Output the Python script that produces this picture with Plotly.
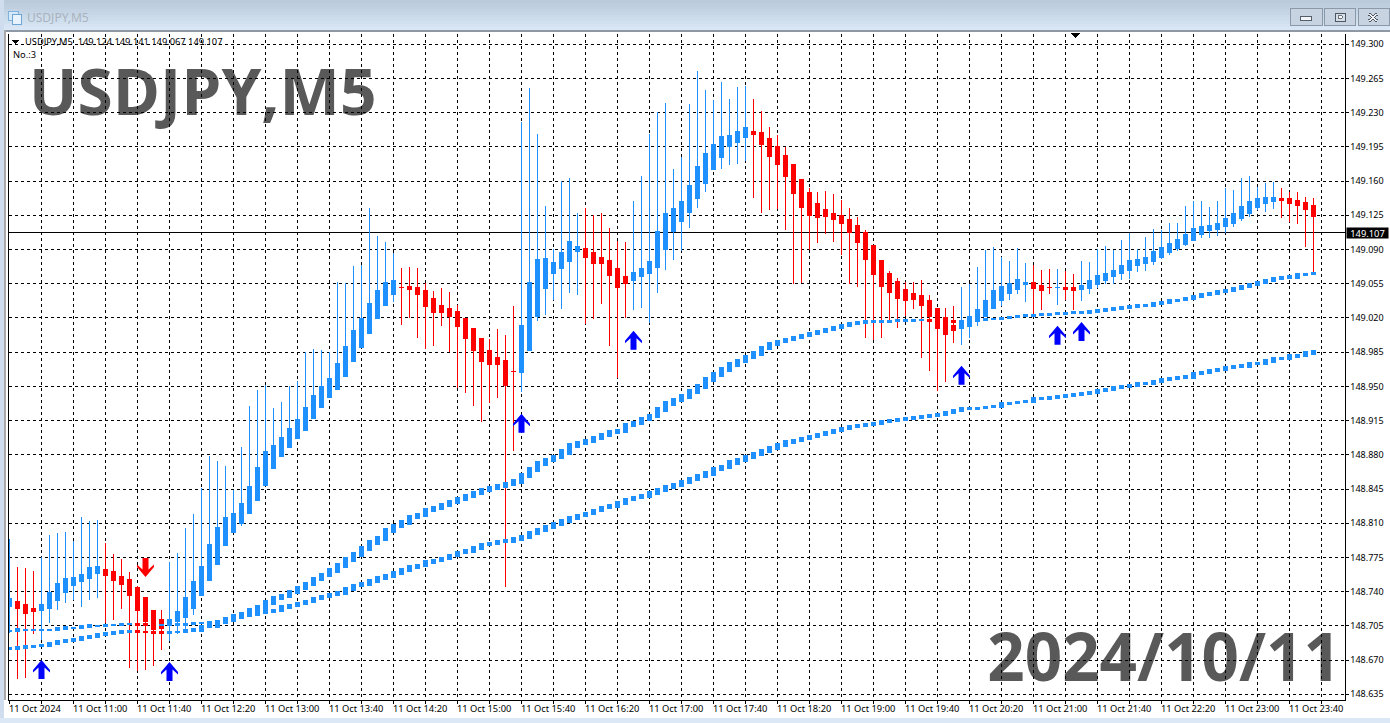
import plotly.graph_objects as go

# ---------- DATA ----------
opens = [148.725,148.730,148.727,148.723,148.721,148.723,148.731,148.739,148.746,148.750,148.753,148.759,148.763,148.761,148.756,148.752,148.744,148.734,148.721,148.712,
148.705,148.709,148.714,148.723,148.736,148.751,148.768,148.787,148.801,148.810,148.820,148.833,148.849,148.866,148.878,148.887,148.897,148.905,148.917,148.928,
148.939,148.947,148.960,148.975,148.990,149.004,149.019,149.033,149.044,149.0512,149.052,149.051,149.048,149.040,149.033,149.030,149.027,149.019,149.009,148.999,
148.987,148.980,148.977,148.9652,148.964,148.987,149.021,149.050,149.065,149.071,149.078,149.088,149.091,149.087,149.082,149.079,149.071,149.062,149.058,149.062,
149.066,149.072,149.090,149.108,149.119,149.128,149.142,149.158,149.172,149.184,149.195,149.200,149.205,149.211,149.210,149.204,149.195,149.186,149.177,149.162,
149.148,149.137,149.131,149.127,149.125,149.121,149.115,149.107,149.094,149.079,149.066,149.057,149.049,149.045,149.043,149.038,149.030,149.020,149.012,149.009,
149.011,149.016,149.022,149.030,149.038,149.045,149.049,149.054,149.056,149.053,149.0512,149.0510,149.051,149.051,149.049,149.050,149.054,149.058,149.062,149.065,
149.069,149.074,149.076,149.078,149.082,149.087,149.091,149.095,149.099,149.105,149.109,149.111,149.114,149.117,149.122,149.127,149.133,149.137,149.139,149.142,
149.142,149.140,149.138,149.135]
closes = [148.733,148.723,148.718,148.720,148.727,148.739,148.748,148.753,148.755,148.758,148.765,148.766,148.757,148.751,148.747,148.736,148.721,148.709,148.701,148.702,
148.712,148.720,148.734,148.750,148.766,148.788,148.806,148.816,148.820,148.830,148.848,148.867,148.883,148.890,148.898,148.907,148.916,148.928,148.941,148.950,
148.958,148.973,148.991,149.007,149.019,149.035,149.048,149.056,149.058,149.0510,149.049,149.044,149.032,149.026,149.026,149.022,149.011,148.999,148.987,148.975,
148.972,148.972,148.951,148.9650,149.012,149.056,149.080,149.081,149.077,149.087,149.098,149.093,149.082,149.076,149.076,149.063,149.051,149.055,149.067,149.071,
149.078,149.108,149.127,149.132,149.139,149.156,149.175,149.188,149.197,149.206,149.207,149.211,149.215,149.208,149.197,149.185,149.177,149.165,149.147,149.133,
149.125,149.123,149.124,149.121,149.117,149.107,149.097,149.080,149.064,149.052,149.046,149.040,149.038,149.039,149.033,149.021,149.009,149.003,149.007,149.015,
149.021,149.029,149.038,149.048,149.052,149.055,149.059,149.056,149.050,149.048,149.0510,149.0512,149.049,149.048,149.053,149.058,149.063,149.066,149.069,149.074,
149.079,149.080,149.082,149.088,149.092,149.096,149.100,149.105,149.112,149.114,149.115,149.117,149.122,149.127,149.134,149.139,149.142,149.143,149.143,149.140,
149.137,149.135,149.131,149.124]
highs = [148.794,148.765,148.764,148.761,148.775,148.798,148.800,148.801,148.792,148.816,148.812,148.813,148.790,148.779,148.773,148.760,148.746,148.734,148.721,148.721,
148.770,148.780,148.805,148.819,148.846,148.879,148.874,148.869,148.844,148.888,148.930,148.946,148.951,148.928,148.934,148.950,148.956,148.985,148.988,148.987,
148.985,149.057,149.056,149.073,149.074,149.133,149.104,149.098,149.086,149.071,149.072,149.071,149.056,149.048,149.051,149.047,149.033,149.019,149.009,148.999,
148.998,149.009,149.003,149.032,149.220,149.255,149.208,149.135,149.091,149.160,149.163,149.127,149.132,149.125,149.127,149.112,149.099,149.098,149.140,149.165,
149.208,149.231,149.240,149.172,149.185,149.239,149.273,149.253,149.243,149.261,149.244,149.256,149.257,149.244,149.232,149.215,149.207,149.195,149.177,149.162,
149.153,149.149,149.150,149.147,149.141,149.132,149.123,149.110,149.094,149.079,149.068,149.061,149.057,149.057,149.059,149.044,149.030,149.030,149.032,149.052,
149.055,149.072,149.090,149.093,149.082,149.078,149.092,149.076,149.074,149.069,149.070,149.070,149.068,149.065,149.078,149.077,149.091,149.094,149.090,149.100,
149.107,149.091,149.103,149.111,149.110,149.117,149.117,149.135,149.140,149.140,149.134,149.140,149.153,149.151,149.163,149.165,149.154,149.158,149.159,149.153,
149.149,149.149,149.144,149.143]
lows = [148.698,148.651,148.652,148.697,148.691,148.708,148.721,148.728,148.732,148.724,148.732,148.734,148.708,148.711,148.722,148.662,148.659,148.660,148.664,148.680,
148.690,148.697,148.701,148.716,148.736,148.751,148.768,148.787,148.801,148.807,148.820,148.833,148.849,148.866,148.878,148.887,148.897,148.905,148.917,148.928,
148.939,148.947,148.960,148.975,148.990,149.004,149.019,149.033,149.036,149.013,149.020,149.000,148.988,148.991,149.012,148.985,148.948,148.943,148.930,148.914,
148.933,148.938,148.745,148.884,148.944,148.987,149.017,149.023,149.038,149.029,149.046,149.044,149.014,149.019,149.034,148.991,148.959,149.020,149.028,149.030,
149.015,149.046,149.069,149.079,149.089,149.112,149.133,149.149,149.172,149.172,149.176,149.177,149.181,149.143,149.127,149.130,149.131,149.110,149.055,149.056,
149.090,149.097,149.106,149.098,149.084,149.055,149.052,149.000,148.997,149.000,149.016,149.010,149.022,149.029,148.979,148.966,148.945,148.954,148.994,148.992,
149.000,149.012,149.022,149.030,149.032,149.038,149.045,149.036,149.024,149.028,149.045,149.033,149.038,149.028,149.037,149.045,149.051,149.055,149.055,149.059,
149.060,149.067,149.068,149.074,149.080,149.084,149.088,149.094,149.099,149.102,149.102,149.104,149.107,149.113,149.119,149.123,149.130,149.128,149.131,149.122,
149.118,149.116,149.093,149.066]
ma_upper = [148.700,148.701,148.701,148.701,148.701,148.701,148.702,148.703,148.703,148.704,148.705,148.705,148.706,148.706,148.707,148.7070,148.7065,148.7062,148.7060,148.7060,
148.7062,148.7064,148.707,148.708,148.708,148.709,148.709,148.711,148.714,148.717,148.721,148.724,148.729,148.733,148.736,148.740,148.744,148.748,148.753,148.757,
148.762,148.767,148.773,148.778,148.784,148.790,148.795,148.802,148.807,148.811,148.816,148.819,148.823,148.826,148.829,148.832,148.835,148.838,148.841,148.844,
148.846,148.848,148.850,148.853,148.859,148.865,148.871,148.875,148.878,148.883,148.889,148.892,148.894,148.897,148.900,148.903,148.905,148.910,148.913,148.917,
148.920,148.926,148.932,148.936,148.940,148.945,148.950,148.957,148.962,148.967,148.972,148.976,148.980,148.984,148.989,148.993,148.996,148.998,149.000,149.002,
149.004,149.006,149.008,149.010,149.012,149.014,149.015,149.016,149.0162,149.0164,149.017,149.0172,149.0175,149.0178,149.0180,149.0176,149.0172,149.0168,149.0165,149.0166,
149.017,149.018,149.019,149.0192,149.020,149.021,149.022,149.0224,149.023,149.0234,149.024,149.0246,149.025,149.0254,149.026,149.027,149.028,149.029,149.030,149.031,
149.032,149.0326,149.033,149.035,149.036,149.038,149.0385,149.040,149.042,149.044,149.045,149.047,149.048,149.050,149.052,149.054,149.056,149.058,149.060,149.061,
149.062,149.064,149.065,149.066]
ma_lower = [148.682,148.683,148.684,148.6845,148.685,148.687,148.689,148.690,148.691,148.693,148.694,148.696,148.697,148.698,148.6990,148.6992,148.6988,148.6986,148.6984,148.6982,
148.6985,148.6988,148.700,148.701,148.704,148.705,148.709,148.712,148.715,148.716,148.717,148.719,148.7195,148.721,148.724,148.726,148.728,148.730,148.733,148.735,
148.737,148.739,148.743,148.746,148.748,148.751,148.754,148.756,148.759,148.762,148.765,148.767,148.770,148.772,148.774,148.777,148.780,148.782,148.785,148.788,
148.789,148.791,148.792,148.794,148.796,148.800,148.803,148.806,148.809,148.812,148.815,148.818,148.820,148.823,148.826,148.828,148.831,148.834,148.836,148.838,
148.841,148.844,148.847,148.849,148.852,148.855,148.858,148.861,148.865,148.868,148.872,148.875,148.878,148.881,148.884,148.887,148.890,148.893,148.895,148.897,
148.899,148.901,148.903,148.905,148.907,148.909,148.910,148.911,148.912,148.914,148.915,148.916,148.917,148.918,148.919,148.920,148.921,148.923,148.925,148.927,
148.9275,148.928,148.929,148.930,148.932,148.933,148.934,148.935,148.937,148.9375,148.939,148.940,148.941,148.942,148.943,148.944,148.946,148.947,148.949,148.950,
148.951,148.953,148.9535,148.955,148.957,148.958,148.959,148.960,148.963,148.964,148.966,148.967,148.969,148.970,148.971,148.973,148.974,148.976,148.978,148.979,
148.981,148.982,148.984,148.986]
up_arrow_bars = [4, 20, 64, 78, 119, 131, 134]
up_arrow_prices = [148.670, 148.668, 148.922, 149.007, 148.971, 149.012, 149.016]
down_arrow_bars = [17]
down_arrow_prices = [148.755]
price_ticks = [149.300,149.265,149.230,149.195,149.160,149.125,149.090,149.055,149.020,148.985,148.950,148.915,148.880,148.845,148.810,148.775,148.740,148.705,148.670,148.635]
time_labels = ["11 Oct 2024","11 Oct 11:00","11 Oct 11:40","11 Oct 12:20","11 Oct 13:00","11 Oct 13:40","11 Oct 14:20","11 Oct 15:00","11 Oct 15:40","11 Oct 16:20","11 Oct 17:00",
"11 Oct 17:40","11 Oct 18:20","11 Oct 19:00","11 Oct 19:40","11 Oct 20:20","11 Oct 21:00","11 Oct 21:40","11 Oct 22:20","11 Oct 23:00","11 Oct 23:40"]
last_price = 149.107
legend_text = "USDJPY,M5  149.124 149.141 149.067 149.107"

# ---------- STYLE ----------
W, H = 1390, 723
BLUE, RED = "#1E90FF", "#FF0000"
SMALL = "Noto Sans"
Y_RANGE = [148.6297, 149.3110]
PLOT_TOP, PLOT_BOTTOM = 33.5, 699.5
BAR_PX = 8.0
PRICE_PER_PX = (Y_RANGE[1] - Y_RANGE[0]) / (PLOT_BOTTOM - PLOT_TOP)
bars = list(range(len(opens)))

def px(x): return x / W
def py(y): return (H - y) / H
def rect(x0, y0, x1, y1, fill, line=None, lw=0, layer="above"):
    return dict(type="rect", xref="paper", yref="paper", x0=px(x0), x1=px(x1), y0=py(y0), y1=py(y1),
                fillcolor=fill, line=dict(color=line or fill, width=lw), layer=layer)
def seg(x0, y0, x1, y1, color, lw):
    return dict(type="line", xref="paper", yref="paper", x0=px(x0), x1=px(x1), y0=py(y0), y1=py(y1),
                line=dict(color=color, width=lw), layer="above")
def tri(pts, fill):
    p = "M " + " L ".join(f"{px(a):.5f},{py(b):.5f}" for a, b in pts) + " Z"
    return dict(type="path", xref="paper", yref="paper", path=p, fillcolor=fill, line=dict(width=0), layer="above")

fig = go.Figure()
fig.add_trace(go.Candlestick(x=bars, open=opens, high=highs, low=lows, close=closes,
    increasing=dict(line=dict(color=BLUE, width=1), fillcolor=BLUE),
    decreasing=dict(line=dict(color=RED, width=1), fillcolor=RED), showlegend=False, hoverinfo="skip"))

# the two averages are drawn as short vertical pieces, one per bar
for ma in (ma_upper, ma_lower):
    xs = {BLUE: [], RED: []}
    ys = {BLUE: [], RED: []}
    for i in bars:
        prev = ma[i - 1] if i else ma[0]
        d = abs(ma[i] - prev)
        mid = (ma[i] + prev) / 2
        half = 0.0012 + 0.75 * d
        c = RED if ma[i] < prev else BLUE
        xs[c] += [i, i, None]
        ys[c] += [mid - half, mid + half, None]
    for c in (BLUE, RED):
        fig.add_trace(go.Scatter(x=xs[c], y=ys[c], mode="lines", line=dict(color=c, width=5),
                                 showlegend=False, hoverinfo="skip"))

# signal arrows: outline in pixels around the tip, placed on the bar and price of the signal
ARROW = [(0, 0), (8.5, 10), (8.5, 12.5), (3, 7.5), (3, 19), (-3, 19), (-3, 7.5), (-8.5, 12.5), (-8.5, 10), (0, 0)]
def arrow_trace(bar_list, price_list, direction, color):
    xs, ys = [], []
    for b, p in zip(bar_list, price_list):
        for dx, dy in ARROW:
            xs.append(b + dx / BAR_PX)
            ys.append(p - direction * dy * PRICE_PER_PX)
        xs.append(None)
        ys.append(None)
    return go.Scatter(x=xs, y=ys, mode="lines", fill="toself", fillcolor=color, line=dict(width=0, color=color),
                      showlegend=False, hoverinfo="skip")
fig.add_trace(arrow_trace(up_arrow_bars, up_arrow_prices, 1, "#0000FF"))
fig.add_trace(arrow_trace(down_arrow_bars, down_arrow_prices, -1, RED))

annotations = []
for k, t in enumerate(time_labels):
    annotations.append(dict(x=bars[k * 8], y=py(708), xref="x", yref="paper", text=t, showarrow=False, xanchor="left",
        yanchor="middle", xshift=-3, font=dict(family=SMALL, size=9.3, color="#000000")))
annotations.append(dict(x=px(1346), y=last_price, xref="paper", yref="y", text=str(last_price), showarrow=False, xanchor="left", yanchor="middle",
    width=41, height=10, borderpad=0, bgcolor="#000000", align="center", font=dict(family=SMALL, size=9.3, color="#FFFFFF")))
annotations.append(dict(x=px(22.5), y=py(41), xref="paper", yref="paper", text=legend_text, showarrow=False, xanchor="left", yanchor="middle",
    font=dict(family=SMALL, size=9.3, color="#000000")))
annotations.append(dict(x=px(11), y=py(54.5), xref="paper", yref="paper", text="No.:3", showarrow=False, xanchor="left", yanchor="middle",
    font=dict(family=SMALL, size=9.3, color="#000000")))
annotations.append(dict(x=px(25), y=py(17), xref="paper", yref="paper", text="USDJPY,M5", showarrow=False, xanchor="left", yanchor="middle",
    font=dict(family=SMALL, size=12, color="#A9B3BE")))

shapes = []
# title bar gradient and window frame
top, bottom = (186, 202, 218), (216, 230, 245)
for k in range(10):
    c = tuple(round(top[j] + (bottom[j] - top[j]) * k / 9) for j in range(3))
    shapes.append(rect(0, k * 3, W, (k + 1) * 3, f"rgb{c}"))
shapes += [rect(0, 30, W, 31.5, "#8E99A5"), rect(0, 31.5, W, 33.5, "#FFFFFF"),
           rect(0, 0, 4, H, "#CFDDEE"), rect(4, 30, 6, 700, "#A8A8A8"), rect(6, 31.5, 8, 700, "#FFFFFF"),
           rect(0, 718, W, H, "#DCE8F5")]
# window buttons
for x0, x1 in ((1290, 1322), (1324, 1355), (1358, 1389)):
    shapes.append(rect(x0, 8, x1, 25, "#C8D3E1", "#8C99A9", 1))
shapes += [rect(1300, 16, 1311, 20.5, "#F4F6F9", "#545E6B", 1), rect(1335, 13, 1345, 21, "#D5DDE7", "#4D5763", 1),
           rect(1338, 15.5, 1342, 18, "#FFFFFF", "#4D5763", 0.8),
           seg(1369, 14, 1377, 21, "#4D5763", 3), seg(1377, 14, 1369, 21, "#4D5763", 3),
           seg(1369, 14, 1377, 21, "#F2F4F7", 1.3), seg(1377, 14, 1369, 21, "#F2F4F7", 1.3)]
# title icon
shapes += [rect(8, 11, 18, 20, "#D6E9F8", "#7FB2DC", 1), rect(12, 14, 21, 24, "#E8F3FC", "#6DA5D4", 1)]
# small markers of the terminal
shapes += [tri([(12, 40), (19, 40), (15.5, 44)], "#000000"), tri([(1071, 33), (1080, 33), (1075.5, 38.5)], "#000000")]
# current price line
shapes.append(dict(type="line", xref="paper", yref="y", x0=px(8.5), x1=px(1344.5), y0=last_price, y1=last_price,
                   line=dict(color="#000000", width=1), layer="between"))
# big captions, under the grid
shapes.append(dict(type="rect", xref="paper", yref="paper", x0=px(26), x1=px(400), y0=py(118), y1=py(71), line=dict(width=0),
    fillcolor="rgba(0,0,0,0)", layer="below",
    label=dict(text="USDJPY,M5", textposition="middle left", padding=0, font=dict(family="Open Sans", size=64, color="#595959", weight=700))))
shapes.append(dict(type="rect", xref="paper", yref="paper", x0=px(960), x1=px(1344), y0=py(683), y1=py(636), line=dict(width=0),
    fillcolor="rgba(0,0,0,0)", layer="below",
    label=dict(text="2024/10/11", textposition="middle right", padding=0, font=dict(family="Open Sans", size=65.5, color="#595959", weight=700))))

fig.update_layout(
    width=W, height=H, margin=dict(l=0, r=0, t=0, b=0), paper_bgcolor="#FFFFFF", plot_bgcolor="#FFFFFF",
    boxgap=0.42, bargap=0, showlegend=False, annotations=annotations, shapes=shapes,
    xaxis=dict(domain=[px(8.5), px(1344.5)], range=[-0.125, 166.875], tickmode="array", tickvals=list(range(0, 165, 4)),
               ticktext=[""] * 42, showgrid=True, gridcolor="#000000", griddash="3px,3px", gridwidth=1, zeroline=False,
               ticks="outside", ticklen=3, tickcolor="#000000", showline=True, linecolor="#000000", linewidth=1, mirror=True,
               rangeslider=dict(visible=False)),
    yaxis=dict(domain=[py(PLOT_BOTTOM), py(PLOT_TOP)], range=Y_RANGE, side="right", tickmode="array", tickvals=price_ticks,
               ticktext=[f"{v:.3f}" for v in price_ticks], showgrid=True, gridcolor="#000000", griddash="3px,3px", gridwidth=1,
               zeroline=False, ticks="outside", ticklen=3, tickcolor="#000000", showline=True, linecolor="#000000", linewidth=1,
               mirror=True, ticklabelstandoff=0, tickfont=dict(family=SMALL, size=9.0, color="#000000")),
)
crisp = ("document.body.style.margin='0';document.body.style.overflow='hidden';"
         "document.querySelectorAll('.boxlayer path, .shapelayer path, .scatterlayer .js-line')"
         ".forEach(function(e){e.style.shapeRendering='crispEdges';});")
fig.write_html("out.html", config=dict(displayModeBar=False), post_script=crisp)
